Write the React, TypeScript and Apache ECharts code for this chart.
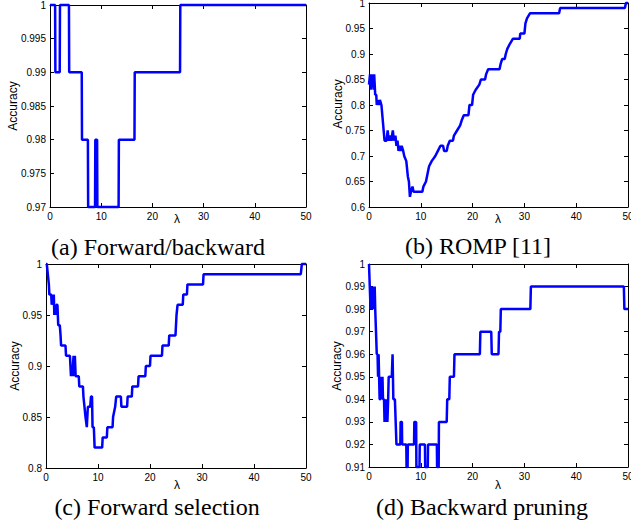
import React, { useEffect, useRef } from "react";
import * as echarts from "echarts";

// ---- data: [lambda, accuracy] ----
const forwardBackward: [number, number][] = [
  [0, 1], [1.0, 1], [1.05, 0.99], [1.9, 0.99], [1.95, 1], [3.7, 1], [3.75, 0.99],
  [6.2, 0.99], [6.25, 0.98], [7.4, 0.98], [7.45, 0.97], [8.8, 0.97], [8.85, 0.98],
  [9.2, 0.98], [9.25, 0.97], [13.4, 0.97], [13.45, 0.98], [16.5, 0.98], [16.55, 0.99],
  [25.4, 0.99], [25.45, 1], [50, 1],
];

const romp: [number, number][] = [
  [0, 0.84], [0.2, 0.86], [0.35, 0.83], [0.5, 0.86], [0.65, 0.84], [0.8, 0.85], [0.9, 0.83],
  [1.0, 0.86], [1.1, 0.84], [1.2, 0.82], [1.4, 0.82], [1.5, 0.8], [1.7, 0.81], [1.9, 0.8],
  [2.1, 0.81], [2.4, 0.8], [3.0, 0.73], [3.4, 0.73], [3.6, 0.75], [3.8, 0.73], [4.1, 0.74],
  [4.3, 0.73], [4.6, 0.75], [4.8, 0.73], [5.1, 0.74], [5.3, 0.72], [5.5, 0.73], [5.7, 0.71],
  [5.9, 0.72], [6.1, 0.71], [6.3, 0.72], [6.6, 0.71], [6.8, 0.7], [7.2, 0.69], [7.5, 0.66],
  [7.7, 0.65], [7.9, 0.62], [8.1, 0.63], [8.4, 0.64], [8.6, 0.63], [10.3, 0.63], [10.5, 0.64],
  [11.0, 0.65], [11.4, 0.67], [11.6, 0.68], [12.1, 0.69], [12.8, 0.7], [13.3, 0.71],
  [13.8, 0.72], [14.3, 0.72], [14.5, 0.71], [15.0, 0.71], [15.2, 0.72], [15.6, 0.73],
  [16.2, 0.73], [16.4, 0.74], [17.0, 0.75], [17.6, 0.76], [17.9, 0.77], [18.3, 0.78],
  [19.2, 0.78], [19.4, 0.8], [19.9, 0.8], [20.1, 0.82], [20.6, 0.83], [21.3, 0.84],
  [21.6, 0.85], [22.4, 0.85], [22.6, 0.86], [23.0, 0.87], [25.2, 0.87], [25.4, 0.88],
  [25.7, 0.89], [26.2, 0.89], [26.4, 0.9], [26.7, 0.91], [27.2, 0.92], [27.8, 0.93],
  [29.1, 0.93], [29.2, 0.94], [30.0, 0.94], [30.2, 0.96], [30.5, 0.97], [31.1, 0.98],
  [36.7, 0.98], [36.9, 0.99], [49.4, 0.99], [49.6, 1.0], [50, 1.0],
];

const forwardSelection: [number, number][] = [
  [0, 1.0], [0.15, 1.0], [0.55, 0.98], [0.65, 0.97], [1.0, 0.97], [1.1, 0.96], [1.25, 0.97],
  [1.4, 0.96], [1.5, 0.97], [1.6, 0.95], [1.75, 0.96], [1.85, 0.95], [2.0, 0.96], [2.2, 0.96],
  [2.35, 0.94], [2.65, 0.94], [2.8, 0.93], [2.9, 0.92], [3.75, 0.92], [3.85, 0.91], [4.6, 0.91],
  [4.7, 0.9], [4.8, 0.89], [4.95, 0.9], [5.05, 0.89], [5.3, 0.91], [5.45, 0.89], [5.55, 0.91],
  [5.7, 0.89], [6.3, 0.89], [6.4, 0.88], [7.1, 0.88], [7.2, 0.87], [7.4, 0.86], [7.6, 0.85],
  [7.85, 0.84], [8.05, 0.86], [8.5, 0.86], [8.65, 0.87], [8.85, 0.87], [8.95, 0.84],
  [9.2, 0.84], [9.35, 0.82], [10.8, 0.82], [10.9, 0.83], [11.7, 0.83], [11.8, 0.84],
  [12.8, 0.84], [12.9, 0.85], [13.3, 0.86], [13.5, 0.87], [14.4, 0.87], [14.5, 0.86],
  [15.6, 0.86], [15.7, 0.87], [16.5, 0.87], [16.6, 0.88], [17.7, 0.88], [17.8, 0.89],
  [19.1, 0.89], [19.2, 0.9], [20.0, 0.9], [20.1, 0.91], [22.3, 0.91], [22.4, 0.92],
  [23.6, 0.92], [23.7, 0.93], [24.9, 0.93], [25.1, 0.95], [25.3, 0.96], [26.3, 0.96],
  [26.4, 0.97], [27.1, 0.97], [27.2, 0.98], [30.2, 0.98], [30.3, 0.99], [49.0, 0.99],
  [49.2, 1.0], [50, 1.0],
];

const backwardPruning: [number, number][] = [
  [0, 1.0], [0.1, 1.0], [0.15, 0.99], [0.3, 0.98], [0.45, 0.99], [0.55, 0.98], [0.65, 0.99],
  [0.75, 0.98], [0.85, 0.99], [1.0, 0.98], [1.1, 0.99], [1.2, 0.98], [1.35, 0.97], [1.5, 0.96],
  [1.65, 0.96], [1.75, 0.95], [1.85, 0.96], [1.95, 0.95], [2.05, 0.94], [2.2, 0.94],
  [2.3, 0.95], [2.45, 0.94], [2.6, 0.95], [2.7, 0.94], [2.9, 0.94], [3.0, 0.93], [3.15, 0.94],
  [3.3, 0.93], [3.45, 0.94], [3.55, 0.93], [3.7, 0.94], [3.8, 0.95], [4.4, 0.95], [4.55, 0.96],
  [4.7, 0.94], [5.0, 0.94], [5.3, 0.92], [6.05, 0.92], [6.1, 0.93], [6.35, 0.93], [6.4, 0.92],
  [7.2, 0.92], [7.25, 0.91], [7.45, 0.91], [7.5, 0.92], [8.7, 0.92], [8.75, 0.93], [9.1, 0.93],
  [9.15, 0.91], [9.75, 0.91], [9.8, 0.92], [10.8, 0.92], [10.85, 0.91], [11.35, 0.91],
  [11.4, 0.92], [13.1, 0.92], [13.15, 0.91], [13.45, 0.91], [13.5, 0.93], [15.0, 0.93],
  [15.1, 0.94], [15.5, 0.94], [15.6, 0.95], [16.4, 0.95], [16.5, 0.96], [21.4, 0.96],
  [21.5, 0.97], [23.6, 0.97], [23.7, 0.96], [25.0, 0.96], [25.1, 0.97], [25.35, 0.97],
  [25.45, 0.98], [31.15, 0.98], [31.25, 0.99], [49.2, 0.99], [49.3, 0.98], [50, 0.98],
];

const captions = ["(a) Forward/backward", "(b) ROMP [11]", "(c) Forward selection", "(d) Backward pruning"];
const xLabel = "λ";
const yLabel = "Accuracy";
const xRange = { min: 0, max: 50, interval: 10 };
const yRanges = [
  { min: 0.97, max: 1, interval: 0.005 },
  { min: 0.6, max: 1, interval: 0.05 },
  { min: 0.8, max: 1, interval: 0.05 },
  { min: 0.91, max: 1, interval: 0.01 },
];
const seriesData = [forwardBackward, romp, forwardSelection, backwardPruning];

// ---- layout ----
const grids = [
  { left: 50, top: 5, width: 256, height: 202 },
  { left: 369, top: 3, width: 259, height: 204 },
  { left: 46, top: 264, width: 260, height: 204 },
  { left: 369, top: 264, width: 259, height: 203 },
];
const yLabelPos = [[13, 106], [338, 104], [15, 366], [337, 366]];
const xLabelPos = [[177, 219], [498, 219], [177, 485], [498, 485]];
const captionPos = [[158, 247], [478, 246], [157, 507], [482, 507]];

const SANS = "Liberation Sans, Arial, Helvetica, sans-serif";
const SERIF = "Liberation Serif, Times New Roman, serif";

export default function App() {
  const ref = useRef<HTMLDivElement>(null);
  useEffect(() => {
    if (!ref.current) return;
    const chart = echarts.init(ref.current, undefined, { renderer: "svg" });
    const axisLine = { show: true, onZero: false, lineStyle: { color: "#000", width: 1 } };
    const axisTick = { show: true, inside: true, length: 4, lineStyle: { color: "#000", width: 1 } };
    const xAxis: any[] = [];
    const yAxis: any[] = [];
    const series: any[] = [];
    grids.forEach((g, i) => {
      xAxis.push({
        type: "value", gridIndex: i, position: "bottom", ...xRange,
        axisLine, axisTick, splitLine: { show: false },
        axisLabel: { color: "#000", fontSize: 10, fontFamily: SANS, margin: 4 },
      });
      xAxis.push({
        type: "value", gridIndex: i, position: "top", ...xRange,
        axisLine, axisTick, splitLine: { show: false }, axisLabel: { show: false },
      });
      yAxis.push({
        type: "value", gridIndex: i, position: "left", ...yRanges[i],
        axisLine, axisTick, splitLine: { show: false },
        axisLabel: { color: "#000", fontSize: 10, fontFamily: SANS, margin: 4 },
      });
      yAxis.push({
        type: "value", gridIndex: i, position: "right", ...yRanges[i],
        axisLine, axisTick, splitLine: { show: false }, axisLabel: { show: false },
      });
      series.push({
        type: "line", xAxisIndex: i * 2, yAxisIndex: i * 2, data: seriesData[i],
        symbol: "none", showSymbol: false, clip: false,
        lineStyle: { color: "#0000ff", width: 2.5 }, z: 5,
      });
    });
    const graphic: any[] = [];
    for (let i = 0; i < 4; i++) {
      graphic.push({
        type: "text", x: yLabelPos[i][0], y: yLabelPos[i][1], rotation: Math.PI / 2,
        style: { text: yLabel, fontSize: 12, fontFamily: SANS, fill: "#000", align: "center", verticalAlign: "middle" },
      });
      graphic.push({
        type: "text", x: xLabelPos[i][0], y: xLabelPos[i][1],
        style: { text: xLabel, fontSize: 12, fontFamily: SANS, fill: "#000", align: "center", verticalAlign: "middle" },
      });
      graphic.push({
        type: "text", x: captionPos[i][0], y: captionPos[i][1],
        style: { text: captions[i], fontSize: 24, fontFamily: SERIF, fill: "#000", align: "center", verticalAlign: "middle" },
      });
    }
    chart.setOption({
      animation: false,
      backgroundColor: "#fff",
      grid: grids.map((g) => ({ ...g, containLabel: false, outerBoundsMode: "none" })),
      xAxis, yAxis, series, graphic,
    });
    return () => chart.dispose();
  }, []);
  return <div ref={ref} style={{ position: "fixed", left: 0, top: 0, width: 631, height: 523 }} />;
}
